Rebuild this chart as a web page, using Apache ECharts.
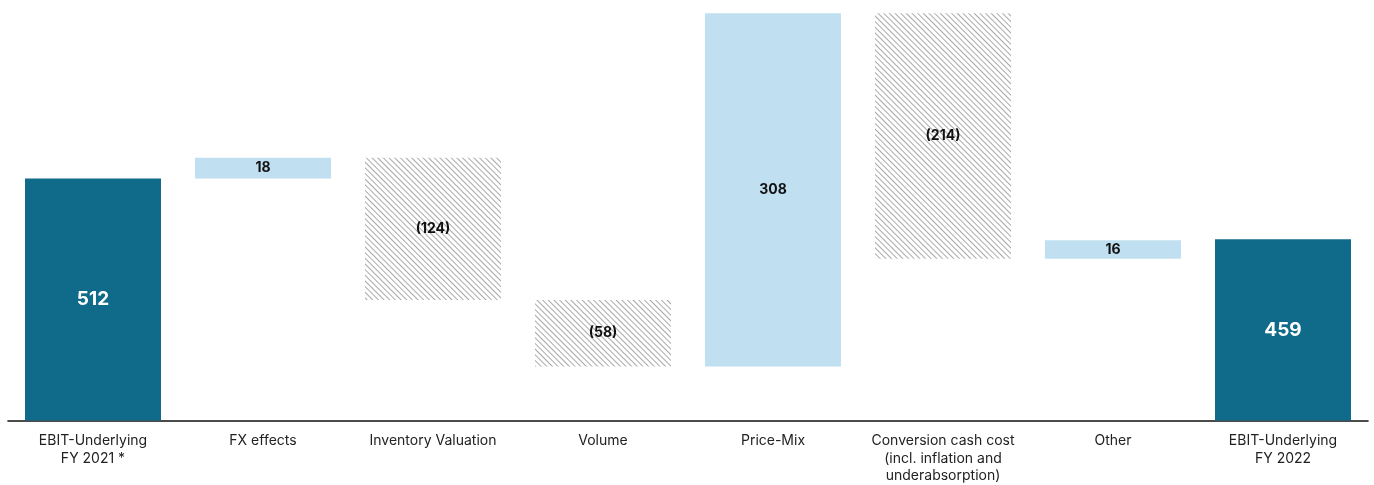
<!DOCTYPE html>
<html><head><meta charset="utf-8">
<script src="https://cdn.jsdelivr.net/npm/echarts@6/dist/echarts.min.js"></script>
<style>html,body{margin:0;padding:0;background:#fff}#c{width:1374px;height:485px}</style>
</head><body><div id="c"></div>
<script>
const categories = ['EBIT-Underlying\nFY 2021 *','FX effects','Inventory Valuation','Volume','Price-Mix','Conversion cash cost\n(incl. inflation and\nunderabsorption)','Other','EBIT-Underlying\nFY 2022'];
const values = [512, 18, -124, -58, 308, -214, 16, 459];
const kinds = ['total','delta','delta','delta','delta','delta','delta','total'];
const axisMin = 301, axisMax = 657;

const baseData = [], barData = [];
let running = 0;
values.forEach((v, i) => {
  if (kinds[i] === 'total') {
    running = v;
    baseData.push(axisMin);
    barData.push({value: v - axisMin, raw: v, kind: 'total'});
  } else {
    const start = running, end = running + v;
    baseData.push(Math.min(start, end));
    barData.push({value: Math.abs(v), raw: v, kind: v >= 0 ? 'up' : 'down'});
    running = end;
  }
});
const hatch = {symbol:'rect', dashArrayX:[1,0], dashArrayY:[1,3], rotation: Math.PI/4, color:'rgba(140,140,140,0.75)', backgroundColor:'#ffffff'};
const styled = barData.map(d => {
  const o = {value: d.value, raw: d.raw};
  if (d.kind === 'total') {
    o.itemStyle = {color:'#106b8a'};
    o.label = {color:'#ffffff', fontSize:19};
  } else if (d.kind === 'up') {
    o.itemStyle = {color:'#c0dff0'};
  } else {
    o.itemStyle = {color:'#ffffff', decal: hatch};
  }
  return o;
});
const chart = echarts.init(document.getElementById('c'), null, {renderer:'canvas'});
chart.setOption({
  animation:false,
  grid:{left:8, right:6, top:12, bottom:60, containLabel:false},
  xAxis:{type:'category', data:categories,
    axisLine:{lineStyle:{color:'#111', width:1.6}}, axisTick:{show:false},
    axisLabel:{interval:0, fontFamily:'Inter', fontSize:14, color:'#222', lineHeight:17.5, margin:12}},
  yAxis:{type:'value', min:axisMin, max:axisMax, show:false, splitLine:{show:false}},
  series:[
    {type:'bar', stack:'w', data:baseData, itemStyle:{color:'transparent'}, barWidth:'80%', silent:true},
    {type:'bar', stack:'w', data:styled, barWidth:'80%',
      label:{show:true, position:'inside', fontFamily:'Inter', fontWeight:'bold', fontSize:14, color:'#111',
        formatter: p => { const r = p.data.raw; return r < 0 ? '(' + Math.abs(r) + ')' : String(r); }}}
  ]
});
</script></body></html>
